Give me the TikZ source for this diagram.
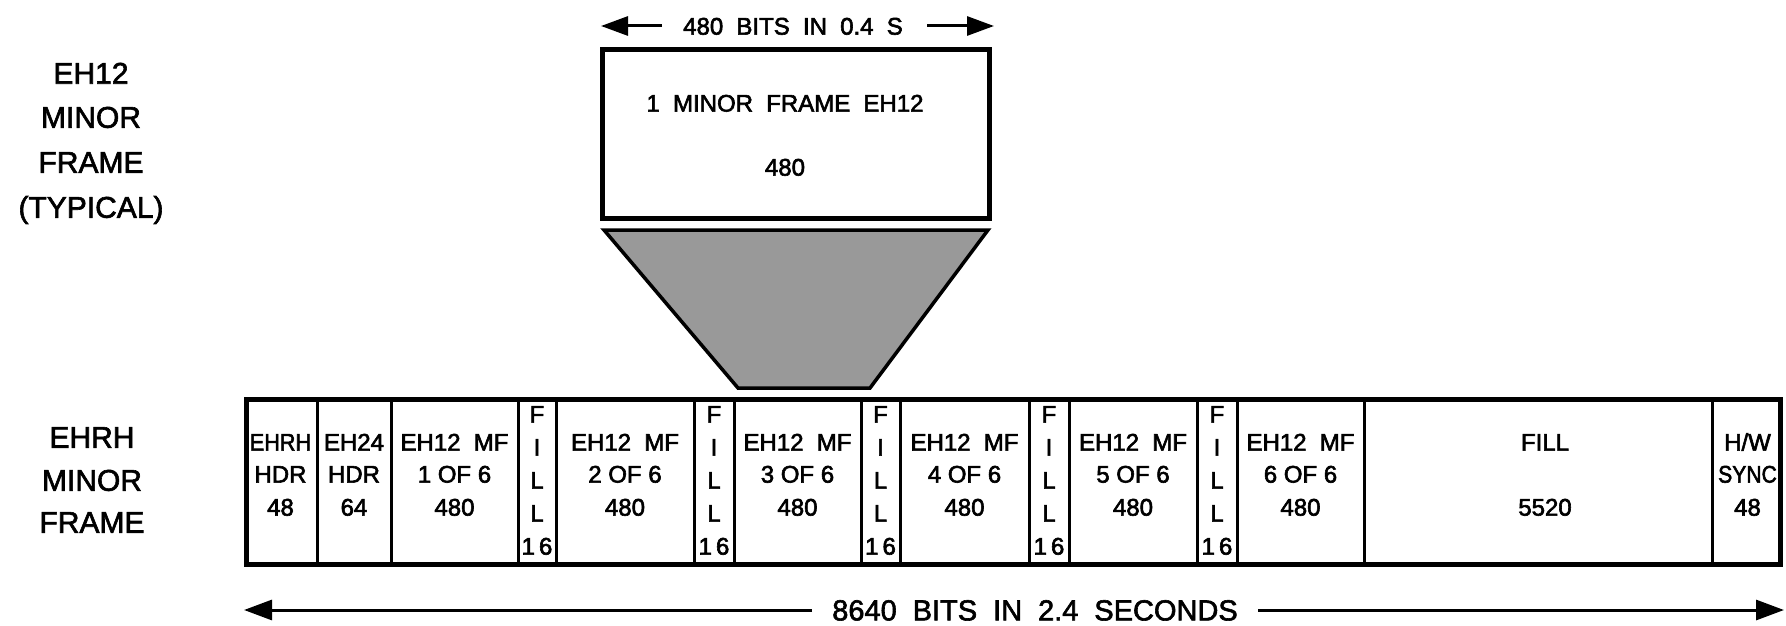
\documentclass[tikz,border=0pt]{standalone}
\usepackage{fontspec}
\usepackage{graphicx}
\setmainfont{Liberation Sans}
\usetikzlibrary{arrows.meta}
\newcommand\dsp{\hspace{0.55em}}
\newcommand\mfcell[3]{%
  \node[txt] (#1a) at (#2,442) {EH12\dsp MF};
  \node[txt] (#1b) at (#2,474) {#3 OF 6};
  \node[txt] (#1c) at (#2,507) {480};
}
\newcommand\fillcol[2]{%
  \node[txt] (#1f) at (#2,414) {F};
  \node[txt] (#1i) at (#2,447) {I};
  \node[txt] (#1l) at (#2,480) {L};
  \node[txt] (#1m) at (#2,513) {L};
  \node[txt] (#1n) at (#2,546) {1\,6};
}
\begin{document}
\begin{tikzpicture}[x=1pt,y=-1pt,
  heavy/.style={execute at begin node={\special{pdf:literal direct 2 Tr 0.6 w}},
                execute at end node={\special{pdf:literal direct 0 Tr}}},
  lbl/.style={heavy, inner sep=0pt, text height=21.5pt, text depth=0pt, font=\fontsize{30}{30}\selectfont},
  txt/.style={heavy, inner sep=0pt, text height=17.2pt, text depth=0pt, font=\fontsize{24}{24}\selectfont},
  big/.style={heavy, inner sep=0pt, text height=20.8pt, text depth=0pt, font=\fontsize{29}{29}\selectfont},
  frameline/.style={line width=5pt},
  divline/.style={line width=3pt},
  arrtop/.style={line width=3pt, -{Triangle[length=27pt,width=19pt]}},
  arrbot/.style={line width=3pt, -{Triangle[length=28pt,width=20pt]}},
]
\useasboundingbox (0,0) rectangle (1786,626);

% left labels
\node[lbl] (t1) at (91,73) {EH12};
\node[lbl] (t2) at (91,117) {MINOR};
\node[lbl] (t3) at (91,162) {FRAME};
\node[lbl] (t4) at (91,207) {(TYPICAL)};
\node[lbl] (b1) at (92,437) {EHRH};
\node[lbl] (b2) at (92,480) {MINOR};
\node[lbl] (b3) at (92,522) {FRAME};

% top minor frame box
\node[draw, frameline, minimum width=387pt, minimum height=169pt, inner sep=0pt] (minor) at (796,134) {};
\node[txt] (mtitle) at (785,103) {1\dsp MINOR\dsp FRAME\dsp EH12};
\node[txt] (mbits) at (785,167) {480};

% top arrow
\node[txt] (toplbl) at (793,26) {480\dsp BITS\dsp IN\dsp 0.4\dsp S};
\coordinate (tl) at (601,26);
\coordinate (tls) at (662,26);
\coordinate (tr) at (994,26);
\coordinate (trs) at (927,26);
\draw[arrtop] (tls) -- (tl);
\draw[arrtop] (trs) -- (tr);

% funnel
\coordinate (f1) at (604,230);
\coordinate (f2) at (988,230);
\coordinate (f3) at (870,388);
\coordinate (f4) at (738,388);
\draw[line width=3.5pt, fill=black!40, line join=miter] (f1) -- (f2) -- (f3) -- (f4) -- cycle;

% EHRH minor frame
\node[draw, frameline, minimum width=1534pt, minimum height=165pt, inner sep=0pt] (ehrh) at (1013.5,482) {};
\foreach \x in {317,391,518,556,694,734,861,900,1029,1069,1197,1237,1364,1712}
  \draw[divline] (\x,399.5) -- (\x,564.5);

\node[txt] (h1a) at (280.5,442) {\scalebox{0.9}[1]{EHRH}};
\node[txt] (h1b) at (280.5,474) {HDR};
\node[txt] (h1c) at (280.5,507) {48};
\node[txt] (h2a) at (354,442) {EH24};
\node[txt] (h2b) at (354,474) {HDR};
\node[txt] (h2c) at (354,507) {64};

\mfcell{mfa}{454.5}{1}
\fillcol{fa}{537}
\mfcell{mfb}{625}{2}
\fillcol{fb}{714}
\mfcell{mfc}{797.5}{3}
\fillcol{fc}{880.5}
\mfcell{mfd}{964.5}{4}
\fillcol{fd}{1049}
\mfcell{mfe}{1133}{5}
\fillcol{fe}{1217}
\mfcell{mff}{1300.5}{6}

\node[txt] (fillA) at (1545,442) {FILL};
\node[txt] (fillB) at (1545,507) {5520};
\node[txt] (syA) at (1747.5,442) {H/W};
\node[txt] (syB) at (1747.5,474) {\scalebox{0.88}[1]{SYNC}};
\node[txt] (syC) at (1747.5,507) {48};

% bottom arrow
\node[big] (botlbl) at (1035,610) {8640\dsp BITS\dsp IN\dsp 2.4\dsp SECONDS};
\coordinate (bl) at (244,610);
\coordinate (bls) at (812,610);
\coordinate (br) at (1784,610);
\coordinate (brs) at (1258,610);
\draw[arrbot] (bls) -- (bl);
\draw[arrbot] (brs) -- (br);
\end{tikzpicture}
\end{document}
